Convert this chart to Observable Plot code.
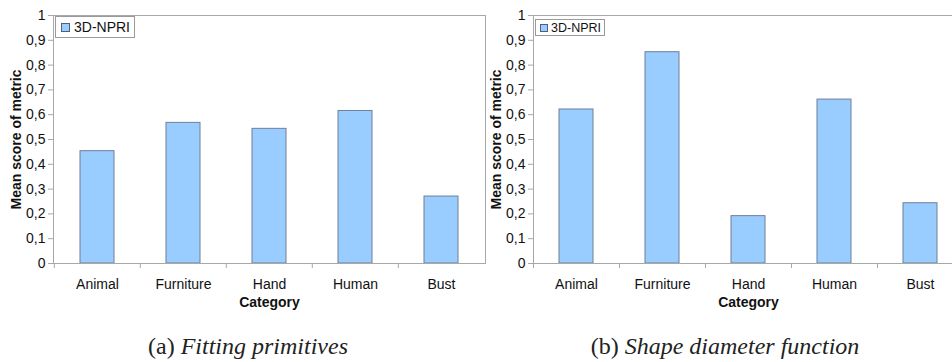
<!DOCTYPE html>
<html>
<head>
<meta charset="utf-8">
<script src="https://cdn.jsdelivr.net/npm/d3@7"></script>
<script src="https://cdn.jsdelivr.net/npm/@observablehq/plot@0.6"></script>
<style>
  html, body { margin: 0; padding: 0; background: #fff; }
  #wrap { position: relative; width: 952px; height: 362px; overflow: hidden; font-family: "Liberation Sans", Arial, sans-serif; }
  #left { position: absolute; left: 0; top: 0; width: 486px; }
  #right { position: absolute; left: 486px; top: 0; width: 477px; }
  #wrap svg { max-width: none !important; display: block; }
  .legend { position: absolute; border: 1px solid #9a9a9a; background: #fff; color: #111; display: flex; align-items: center; box-sizing: border-box; white-space: nowrap; }
  .legend .sw { display: inline-block; background: #99ccff; border: 1px solid #50607a; box-sizing: border-box; }
  .caption { position: absolute; top: 332px; font-family: "Liberation Serif", "DejaVu Serif", serif; font-size: 24px; line-height: 28px; color: #222; white-space: nowrap; transform: translateX(-50%); }
  .caption i { font-style: italic; }
</style>
</head>
<body>
<div id="wrap">
  <div id="left"></div>
  <div id="right"></div>
  <div class="legend" style="left:55px;top:16px;width:80px;height:22px;font-size:14px;padding-left:5px;">
    <span class="sw" style="width:9px;height:9px;margin-right:4px;"></span>3D-NPRI
  </div>
  <div class="legend" style="left:535px;top:19px;width:70px;height:17px;font-size:12.5px;padding-left:4px;">
    <span class="sw" style="width:8px;height:8px;margin-right:3px;"></span>3D-NPRI
  </div>
  <div class="caption" style="left:248px;">(a) <i>Fitting primitives</i></div>
  <div class="caption" style="left:725px;">(b) <i>Shape diameter function</i></div>
</div>
<script>
const categories = ["Animal", "Furniture", "Hand", "Human", "Bust"];
const fittingValues = [0.453, 0.567, 0.543, 0.615, 0.270];
const sdfValues = [0.621, 0.852, 0.191, 0.661, 0.243];
const yTicks = [0, 0.1, 0.2, 0.3, 0.4, 0.5, 0.6, 0.7, 0.8, 0.9, 1];
const yTitle = "Mean score of metric";
const xTitle = "Category";

function makeChart(values, width, marginLeft, marginRight) {
  const data = categories.map((c, i) => ({category: c, value: values[i]}));
  const height = 312, marginTop = 15, marginBottom = 49;
  const step = (width - marginLeft - marginRight) / categories.length;
  return Plot.plot({
    width, height, marginTop, marginBottom, marginLeft, marginRight,
    style: {fontFamily: "'Liberation Sans', Arial, sans-serif", fontSize: "14px", color: "#111", background: "#fff"},
    x: {domain: categories, paddingInner: 0.6, paddingOuter: 0.3, axis: null},
    y: {domain: [0, 1], axis: null},
    marks: [
      Plot.barY(data, {x: "category", y: "value", fill: "#99ccff", stroke: "#6f7f99", strokeWidth: 1}),
      Plot.frame({stroke: "#a8a8a8", strokeWidth: 1}),
      Plot.ruleX(categories, {x: d => d, y1: 0, y2: 0, dx: -step / 2, insetBottom: -5, stroke: "#a8a8a8"}),
      Plot.axisY({ticks: yTicks, tickSize: 5, tickPadding: 3, stroke: "#a8a8a8", tickFormat: d => String(d).replace(".", ","), label: null, fontSize: 14, fill: "#111"}),
      Plot.text(categories, {x: d => d, frameAnchor: "bottom", dy: 21, lineAnchor: "middle", text: d => d, fontSize: 14, fill: "#111"}),
      Plot.text([xTitle], {frameAnchor: "bottom", dy: 39, lineAnchor: "middle", textAnchor: "middle", text: d => d, fontWeight: "bold", fontSize: 14, fill: "#111"}),
      Plot.text([yTitle], {frameAnchor: "left", dx: -37, rotate: -90, textAnchor: "middle", lineAnchor: "middle", text: d => d, fontWeight: "bold", fontSize: 14, fill: "#111"})
    ]
  });
}

document.getElementById("left").append(makeChart(fittingValues, 486, 53, 1));
document.getElementById("right").append(makeChart(sdfValues, 477, 47, 0));
</script>
</body>
</html>
